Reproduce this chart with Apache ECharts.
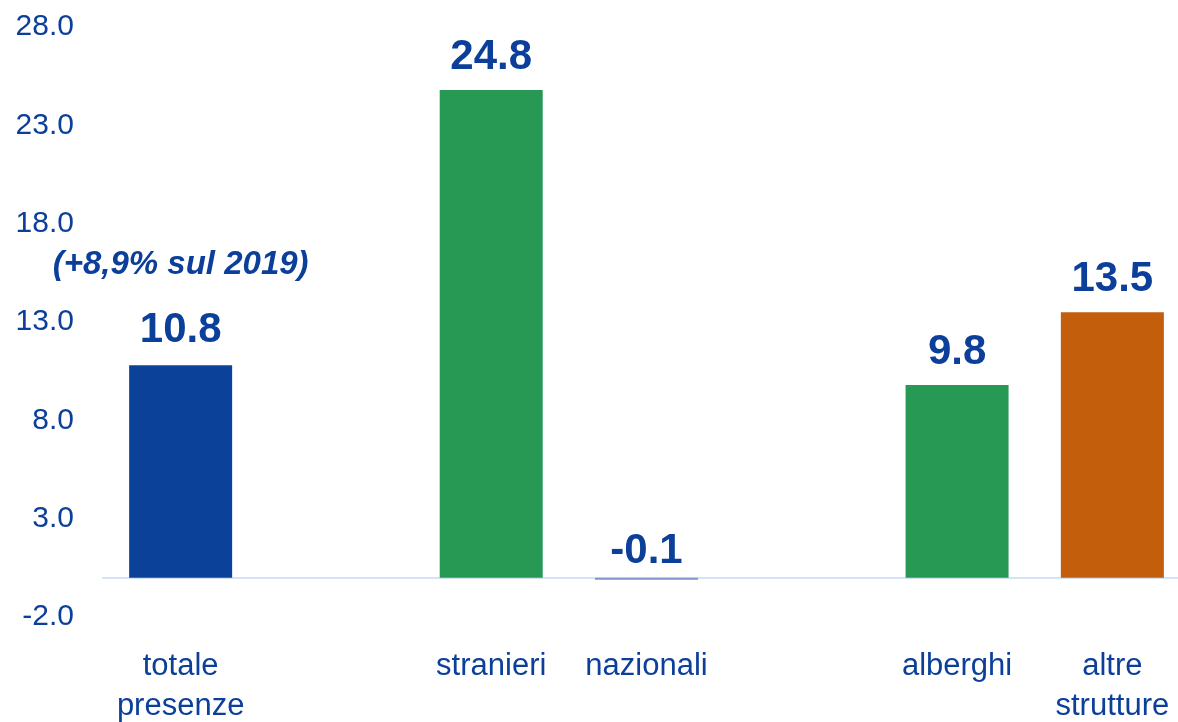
<!DOCTYPE html>
<html lang="it">
<head>
    <meta charset="UTF-8">
    <title>Presenze</title>
    <script src="https://cdn.jsdelivr.net/npm/echarts@6/dist/echarts.min.js"></script>
    <style>
        html, body { margin: 0; padding: 0; background: #fff; }
        #chart { width: 1178px; height: 722px; }
    </style>
</head>
<body>
    <div id="chart"></div>
    <script>
        // categorie (gli slot vuoti fanno da spazio tra i gruppi)
        const categorie = ['totale\npresenze', '', 'stranieri', 'nazionali', '', 'alberghi', 'altre\nstrutture'];
        const valori = [10.8, null, 24.8, -0.1, null, 9.8, 13.5];
        const colori = ['#0b4199', null, '#279955', '#7d96cf', null, '#279955', '#c25e0c'];
        const nota = '(+8,9% sul 2019)';
        const yTicks = { min: -2, max: 28, step: 5 };

        const blu = '#0b3f9a';
        const font = 'Liberation Sans, Arial, sans-serif';
        const chart = echarts.init(document.getElementById('chart'));

        const dati = valori.map((v, i) => {
            if (v === null) return null;
            const d = { value: v, itemStyle: { color: colori[i] } };
            // etichetta del valore negativo un po' più vicina alla linea dello zero
            if (v < 0) d.label = { distance: 5 };
            return d;
        });

        chart.setOption({
            animation: false,
            grid: {
                left: 103, right: -12, top: 27, bottom: 105,
                containLabel: false,
                outerBoundsMode: 'none'
            },
            xAxis: {
                type: 'category',
                data: categorie,
                axisLine: { onZero: true, lineStyle: { color: '#d5e3f7', width: 2 } },
                axisTick: { show: false },
                axisLabel: {
                    interval: 0,
                    margin: 29,
                    color: blu,
                    fontFamily: font,
                    fontSize: 31,
                    lineHeight: 40
                }
            },
            yAxis: {
                type: 'value',
                min: yTicks.min,
                max: yTicks.max,
                interval: yTicks.step,
                splitLine: { show: false },
                axisLine: { show: false },
                axisLabel: {
                    margin: 29,
                    color: blu,
                    fontFamily: font,
                    fontSize: 30,
                    formatter: v => v.toFixed(1)
                }
            },
            series: [{
                type: 'bar',
                data: dati,
                barWidth: 103,
                label: {
                    show: true,
                    position: 'top',
                    distance: 12,
                    color: blu,
                    fontFamily: font,
                    fontWeight: 'bold',
                    fontSize: 42,
                    formatter: p => p.dataIndex === 0
                        ? '{n|' + nota + '}\n{v|' + p.value.toFixed(1) + '}'
                        : p.value.toFixed(1),
                    rich: {
                        n: {
                            fontSize: 33,
                            fontStyle: 'italic',
                            fontWeight: 'bold',
                            color: blu,
                            fontFamily: font,
                            lineHeight: 84,
                            align: 'center'
                        },
                        v: {
                            fontSize: 42,
                            fontWeight: 'bold',
                            color: blu,
                            fontFamily: font,
                            lineHeight: 46,
                            align: 'center'
                        }
                    }
                }
            }]
        });
    </script>
</body>
</html>
